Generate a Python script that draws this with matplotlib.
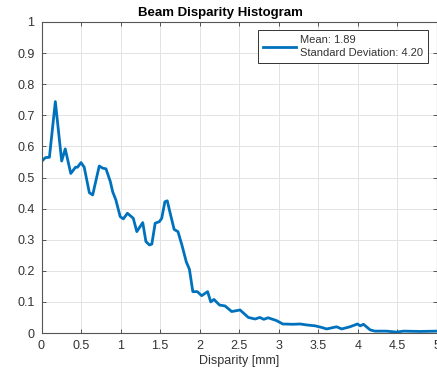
import numpy as np
import matplotlib
matplotlib.use('Agg')
import matplotlib.pyplot as plt

# disparity histogram values
disparity = [0.01, 0.05, 0.10, 0.175, 0.255, 0.30, 0.37, 0.43, 0.455, 0.50,
             0.54, 0.605, 0.647, 0.73, 0.775, 0.815, 0.87, 0.90, 0.94, 0.995,
             1.035, 1.086, 1.16, 1.205, 1.28, 1.32, 1.365, 1.395, 1.437, 1.49,
             1.52, 1.56, 1.59, 1.627, 1.677, 1.725, 1.775, 1.83, 1.87, 1.913,
             1.97, 2.025, 2.10, 2.14, 2.18, 2.25, 2.32, 2.405, 2.51, 2.615,
             2.70, 2.76, 2.81, 2.865, 2.97, 3.05, 3.18, 3.27, 3.35, 3.46,
             3.54, 3.605, 3.73, 3.795, 3.90, 3.995, 4.03, 4.07, 4.155, 4.215,
             4.36, 4.49, 4.575, 4.79, 5.0]
density = [0.554, 0.564, 0.565, 0.744, 0.553, 0.592, 0.513, 0.533, 0.533, 0.548,
           0.533, 0.451, 0.444, 0.537, 0.530, 0.528, 0.487, 0.454, 0.428, 0.374,
           0.367, 0.385, 0.369, 0.326, 0.355, 0.294, 0.283, 0.286, 0.353, 0.358,
           0.369, 0.422, 0.425, 0.385, 0.333, 0.326, 0.283, 0.229, 0.205, 0.133,
           0.133, 0.120, 0.133, 0.100, 0.108, 0.090, 0.087, 0.069, 0.074, 0.050,
           0.045, 0.050, 0.044, 0.049, 0.040, 0.029, 0.028, 0.029, 0.026, 0.023,
           0.018, 0.013, 0.020, 0.013, 0.020, 0.029, 0.023, 0.028, 0.010, 0.006,
           0.006, 0.003, 0.006, 0.005, 0.006]
mean_val = 1.89
std_val = 4.20

plt.rcParams['font.family'] = ['Liberation Sans', 'DejaVu Sans']
edge = '#555555'
txt = '#333333'

fig = plt.figure(figsize=(4.37, 3.77), dpi=100)
ax = fig.add_axes([41.5/437, 44/377, (437-41.5)/437, 311/377])

ax.plot(disparity, density, color='#0072BD', lw=2,
        label=f'Mean: {mean_val:.2f}\nStandard Deviation: {std_val:.2f}')

ax.set_xlim(0, 5)
ax.set_ylim(0, 1)
ax.set_xticks(np.arange(0, 5.01, 0.5))
ax.set_xticklabels(['0', '0.5', '1', '1.5', '2', '2.5', '3', '3.5', '4', '4.5', '5'])
ax.set_yticks(np.arange(0, 1.01, 0.1))
ax.set_yticklabels(['0', '0.1', '0.2', '0.3', '0.4', '0.5', '0.6', '0.7', '0.8', '0.9', '1'])
ax.grid(True, color='#e3e3e3', lw=0.7)
ax.set_axisbelow(True)
ax.tick_params(direction='in', length=3, width=0.7, colors=edge, labelcolor=txt,
               labelsize=9, top=True, right=True, pad=5)
for s in ax.spines.values():
    s.set_color(edge)
    s.set_linewidth(0.8)

ax.set_xlabel('Disparity [mm]', fontsize=9, color=txt, labelpad=2)
ax.set_title('Beam Disparity Histogram', fontsize=9.5, fontweight='bold',
             color='black', x=(220-41.5)/(437-41.5), pad=4)

leg = ax.legend(loc='upper right', bbox_to_anchor=(0.978, 0.973), fontsize=8,
                handlelength=3.0, handletextpad=0.4, borderpad=0.45,
                borderaxespad=0, fancybox=False, framealpha=1,
                edgecolor='#333333', labelspacing=0.2)
leg.get_frame().set_linewidth(0.7)
for t in leg.get_texts():
    t.set_color(txt)
    t.set_linespacing(1.35)

fig.savefig('out.png', dpi=100)
